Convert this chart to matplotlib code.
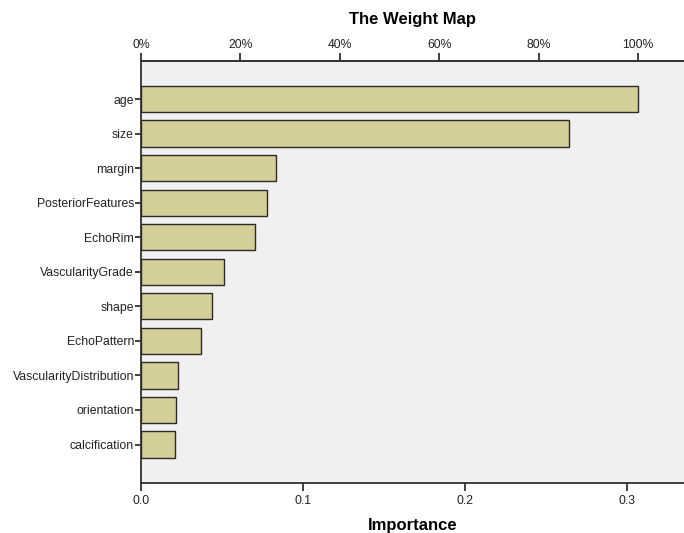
import matplotlib
matplotlib.use('Agg')
import matplotlib.pyplot as plt
import numpy as np

# Variable importance values
features = ['age', 'size', 'margin', 'PosteriorFeatures', 'EchoRim',
            'VascularityGrade', 'shape', 'EchoPattern',
            'VascularityDistribution', 'orientation', 'calcification']
importance = [0.3066, 0.264, 0.0836, 0.078, 0.0706, 0.051,
              0.0438, 0.0369, 0.0226, 0.0218, 0.0212]
x_ticks = [0.0, 0.1, 0.2, 0.3]
pct_ticks = [0, 20, 40, 60, 80, 100]

plt.rcParams['font.family'] = ['Liberation Sans', 'DejaVu Sans']

fig = plt.figure(figsize=(6.84, 5.33), dpi=100)
ax = fig.add_axes([0.206, 0.0947, 0.794, 0.7908])

y = np.arange(len(features))
ax.barh(y, importance, height=0.76, color='#d4cf98',
        edgecolor='#2b2b2b', linewidth=1.0, zorder=3)

ax.set_facecolor('#f0f0f0')
ax.set_xlim(0, 0.335)
ax.set_ylim(11.1, -1.1)
ax.set_yticks(y)
ax.set_yticklabels(features, fontsize=8.8, color='#222222')
ax.set_xticks(x_ticks)
ax.set_xticklabels([f'{v:.1f}' for v in x_ticks], fontsize=8.8, color='#222222')
ax.tick_params(axis='y', length=4, width=1.3, pad=1, color='#333333')
ax.tick_params(axis='x', length=6, width=1.3, pad=3, color='#333333')

for side in ['left', 'bottom', 'top']:
    ax.spines[side].set_color('#333333')
    ax.spines[side].set_linewidth(1.3)
ax.spines['right'].set_visible(False)

# top percent axis, relative to the largest importance
vmax = max(importance)
top = ax.secondary_xaxis('top', functions=(lambda v: v / vmax * 100,
                                           lambda p: p * vmax / 100))
top.set_xticks(pct_ticks)
top.set_xticklabels([f'{p}%' for p in pct_ticks], fontsize=8.8, color='#222222')
top.tick_params(length=6, width=1.3, pad=1, color='#333333')
top.spines['top'].set_color('#333333')
top.spines['top'].set_linewidth(1.3)

ax.set_xlabel('Importance', fontsize=12, fontweight='bold', labelpad=8)
fig.text(0.603, 0.964, 'The Weight Map', fontsize=12, fontweight='bold',
         ha='center', va='center')

plt.savefig('out.png', dpi=100, facecolor='white')
plt.close()
